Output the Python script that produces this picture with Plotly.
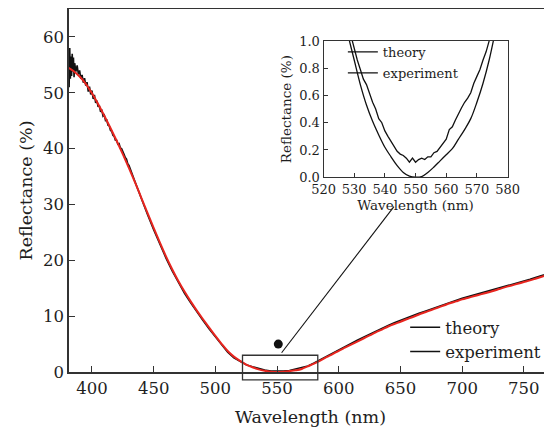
import plotly.graph_objects as go

# ---------------- data ----------------
theory_wl = [380, 385, 390, 395, 400, 405, 410, 415, 420, 425, 430, 435, 440, 445, 450,
             455, 460, 465, 470, 475, 480, 485, 490, 495, 500, 505, 510, 515, 520, 525,
             530, 535, 540, 545, 550, 555, 560, 565, 570, 575, 580, 585, 590, 595, 600,
             605, 610, 615, 620, 625, 630, 635, 640, 645, 650, 655, 660, 665, 670, 675,
             680, 685, 690, 695, 700, 705, 710, 715, 720, 725, 730, 735, 740, 745, 750,
             755, 760, 765, 770, 775]
theory_R = [54.6, 53.9, 52.9, 51.6, 49.9, 48.0, 45.9, 43.7, 41.4, 39.0, 36.5, 33.9, 31.2, 28.5, 25.8,
            23.2, 20.7, 18.4, 16.3, 14.4, 12.65, 11.0, 9.45, 7.95, 6.45, 5.05, 3.75, 2.75, 2.0, 1.32,
            0.86, 0.47, 0.22, 0.06, 0.0, 0.05, 0.165, 0.31, 0.55, 1.02, 1.5, 2.05, 2.65, 3.2, 3.8,
            4.35, 4.9, 5.45, 6.0, 6.55, 7.1, 7.6, 8.15, 8.6, 9.0, 9.45, 9.85, 10.3, 10.7, 11.1,
            11.5, 11.9, 12.3, 12.65, 13.0, 13.3, 13.6, 13.9, 14.2, 14.5, 14.85, 15.2, 15.5, 15.8, 16.1,
            16.4, 16.75, 17.1, 17.45, 17.8]

exp_wl = [381, 381.5, 382, 382.5, 383, 383.5, 384, 384.5, 385, 385.5, 386, 387, 388, 389, 390,
          391, 392, 393, 394, 395, 396, 397, 398, 399, 400, 401, 402, 403, 404, 405,
          406, 407, 408, 409, 410, 411, 412, 413, 414, 415, 416, 417, 418, 419, 420,
          421, 422, 423, 424, 425, 426, 427, 428, 429, 430, 435, 440, 445, 450, 455,
          460, 465, 470, 475, 480, 485, 490, 495, 500, 505, 510, 515, 520, 525, 530,
          535, 540, 545, 550, 555, 560, 565, 570, 575, 580, 585, 590, 595, 600, 605,
          610, 615, 620, 625, 630, 635, 640, 645, 650, 655, 660, 665, 670, 675, 680,
          685, 690, 695, 700, 705, 710, 715, 720, 725, 730, 735, 740, 745, 750, 755,
          760, 765, 770, 775]
exp_R = [57.5, 51.0, 58.0, 52.5, 56.5, 53.0, 57.0, 53.8, 56.3, 52.8, 55.3, 53.8, 54.9, 53.3, 54.0,
         52.5, 53.2, 51.8, 52.6, 51.3, 51.9, 50.2, 51.1, 49.7, 50.4, 48.9, 49.6, 48.2, 48.6, 47.5,
         47.7, 46.6, 46.8, 45.8, 46.0, 45.0, 45.1, 44.2, 44.1, 43.3, 43.1, 42.4, 42.2, 41.5, 41.5,
         40.8, 40.9, 40.1, 40.0, 39.3, 39.0, 38.4, 38.1, 37.3, 37.0, 34.0, 31.0, 28.2, 25.5, 22.9,
         20.4, 18.1, 16.0, 14.1, 12.4, 10.75, 9.2, 7.7, 6.25, 4.85, 3.55, 2.55, 1.85, 1.3, 0.95,
         0.6, 0.34, 0.17, 0.11, 0.15, 0.28, 0.51, 0.74, 1.08, 1.6, 2.2, 2.85, 3.45, 4.05, 4.6,
         5.15, 5.7, 6.25, 6.8, 7.3, 7.85, 8.35, 8.8, 9.25, 9.65, 10.05, 10.5, 10.9, 11.3, 11.7,
         12.1, 12.5, 12.85, 13.2, 13.5, 13.8, 14.1, 14.4, 14.7, 15.05, 15.4, 15.7, 16.0, 16.3, 16.6,
         16.95, 17.3, 17.65, 18.0]

inset_theory_wl = [526, 528, 530, 532, 534, 536, 538, 540, 542, 544, 546, 548, 550, 552,
                   554, 556, 558, 560, 562, 564, 566, 568, 570, 572, 574, 576, 578]
inset_theory_R = [1.22, 1.04, 0.86, 0.68, 0.53, 0.41, 0.31, 0.22, 0.15, 0.085, 0.035, 0.008, 0.0, 0.005,
                  0.035, 0.075, 0.12, 0.165, 0.21, 0.28, 0.35, 0.43, 0.55, 0.69, 0.86, 1.07, 1.3]

inset_exp_wl = [528, 529, 530, 531, 532, 533, 534, 535, 536, 537, 538, 539, 540, 541, 542,
                543, 544, 545, 546, 547, 548, 549, 550, 551, 552, 553, 554, 555, 556, 557,
                558, 559, 560, 561, 562, 563, 564, 565, 566, 567, 568, 569, 570, 571, 572,
                573, 574, 575, 576]
inset_exp_R = [1.12, 1.03, 0.95, 0.86, 0.79, 0.72, 0.68, 0.61, 0.55, 0.50, 0.43, 0.40, 0.34, 0.30, 0.26,
               0.22, 0.19, 0.17, 0.16, 0.14, 0.11, 0.14, 0.11, 0.13, 0.14, 0.13, 0.15, 0.15, 0.18, 0.19,
               0.22, 0.25, 0.28, 0.35, 0.37, 0.42, 0.47, 0.51, 0.55, 0.58, 0.62, 0.69, 0.74, 0.79, 0.86,
               0.92, 1.00, 1.08, 1.15]

marker_wl = [551]
marker_R = [5.0]

x_ticks = [400, 450, 500, 550, 600, 650, 700, 750]
y_ticks = [0, 10, 20, 30, 40, 50, 60]
inset_x_ticks = [520, 530, 540, 550, 560, 570, 580]
inset_y_ticks = [0.0, 0.2, 0.4, 0.6, 0.8, 1.0]
legend_names = ["theory", "experiment"]

# ---------------- figure ----------------
FONT = "DejaVu Serif"
INK = "#1e1e1e"
AX = "#333333"

fig = go.Figure()

# main curves
fig.add_trace(go.Scatter(x=exp_wl, y=exp_R, mode="lines", line=dict(color="#111111", width=1.6),
                         showlegend=False, xaxis="x", yaxis="y"))
fig.add_trace(go.Scatter(x=theory_wl, y=theory_R, mode="lines", line=dict(color="#e8251f", width=2, shape="spline"),
                         showlegend=False, xaxis="x", yaxis="y"))
fig.add_trace(go.Scatter(x=marker_wl, y=marker_R, mode="markers", marker=dict(color="#111111", size=9),
                         showlegend=False, xaxis="x", yaxis="y"))

# main legend (both entries drawn in black, as in the reference)
for nm in legend_names:
    fig.add_trace(go.Scatter(x=[None], y=[None], mode="lines", name=nm,
                             line=dict(color="#111111", width=1.5), legend="legend", xaxis="x", yaxis="y"))

# inset curves
fig.add_trace(go.Scatter(x=inset_theory_wl, y=inset_theory_R, mode="lines",
                         line=dict(color="#111111", width=1.3, shape="spline"),
                         showlegend=False, xaxis="x2", yaxis="y2"))
fig.add_trace(go.Scatter(x=inset_exp_wl, y=inset_exp_R, mode="lines",
                         line=dict(color="#111111", width=1.3),
                         showlegend=False, xaxis="x2", yaxis="y2"))
for nm in legend_names:
    fig.add_trace(go.Scatter(x=[None], y=[None], mode="lines", name=nm, legendgroup="ins_" + nm,
                             line=dict(color="#111111", width=1.3), legend="legend2", xaxis="x2", yaxis="y2"))

axis_common = dict(showgrid=False, zeroline=False, showline=True, linecolor=AX,
                   ticks="inside", tickcolor=AX, tickwidth=1.3, automargin=False)

# the page body adds an 8 px offset, so margins compensate for it
fig.update_layout(
    width=552, height=430,
    margin=dict(l=61, r=8, t=1, b=66, autoexpand=False),
    paper_bgcolor="white", plot_bgcolor="white",
    font=dict(family=FONT, color=INK, size=16),
    xaxis=dict(domain=[0, 1], range=[381.4, 772.8], tickvals=x_ticks, ticklen=6, mirror=True, linewidth=1.5,
               tickfont=dict(size=16.5), title=dict(text="Wavelength (nm)", font=dict(size=17.5), standoff=14),
               anchor="y", **axis_common),
    yaxis=dict(domain=[0, 1], range=[0, 65], tickvals=y_ticks, ticklen=6, mirror=False, linewidth=1.5,
               tickfont=dict(size=16.5), title=dict(text="Reflectance (%)", font=dict(size=17.5), standoff=6),
               anchor="x", **axis_common),
    xaxis2=dict(domain=[0.527, 0.908], range=[520, 580], tickvals=inset_x_ticks, ticklen=4, mirror=True,
                linewidth=1.2,
                tickfont=dict(size=13), title=dict(text="Wavelength (nm)", font=dict(size=13.5), standoff=2),
                anchor="y2", **axis_common),
    yaxis2=dict(domain=[0.5365, 0.912], range=[0, 1], tickvals=inset_y_ticks, ticklen=4, mirror=True,
                linewidth=1.2, tickformat=".1f",
                tickfont=dict(size=13), title=dict(text="Reflectance (%)", font=dict(size=13.5), standoff=4),
                anchor="x2", **axis_common),
    legend=dict(x=0.696, y=0.171, xanchor="left", yanchor="top", bgcolor="rgba(0,0,0,0)",
                font=dict(size=16.5), tracegroupgap=0, itemwidth=30),
    legend2=dict(x=0.567, y=0.923, xanchor="left", yanchor="top", bgcolor="rgba(0,0,0,0)",
                 font=dict(size=13), tracegroupgap=1, itemwidth=30),
    shapes=[
        dict(type="rect", xref="x", yref="paper", x0=522, x1=583, y0=-1.4 / 65, y1=3.0 / 65,
             line=dict(color=AX, width=1.3), fillcolor="rgba(0,0,0,0)", layer="above"),
        dict(type="line", xref="x", yref="y", x0=553.7, y0=3.45, x1=644.7, y1=29.6,
             line=dict(color="#111111", width=1.1), layer="above"),
    ],
)

fig.write_html("out.html")
